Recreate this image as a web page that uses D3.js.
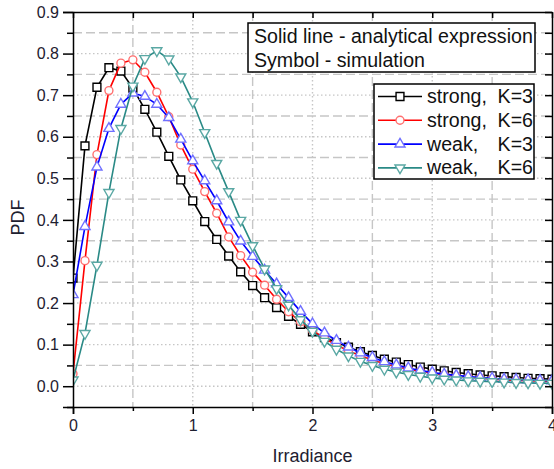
<html>
<head>
<script src="https://d3js.org/d3.v7.min.js"></script>
<style>
body { margin: 0; background: #fff; }
svg { font-family: "Liberation Sans", Arial, sans-serif; }
.grid line { stroke: #c6c6c6; stroke-width: 1.4; }
.major { stroke-dasharray: 1.5, 2.5; }
.minor { stroke-dasharray: 9, 4; }
.axis path, .axis line { stroke: #000; stroke-width: 1.5; }
.axis text { font-size: 16px; fill: #1e2030; }
.series path.line { fill: none; stroke-width: 1.6; }
.legend text { font-size: 19.6px; fill: #111; }
</style>
</head>
<body>
<div id="root"></div>
<script>
// irradiance sampling points
var irradiance = [0.0, 0.1, 0.2, 0.3, 0.4, 0.5, 0.6, 0.7, 0.8, 0.9,
  1.0, 1.1, 1.2, 1.3, 1.4, 1.5, 1.6, 1.7, 1.8, 1.9,
  2.0, 2.1, 2.2, 2.3, 2.4, 2.5, 2.6, 2.7, 2.8, 2.9,
  3.0, 3.1, 3.2, 3.3, 3.4, 3.5, 3.6, 3.7, 3.8, 3.9, 4.0];

var strongK3 = [0.26, 0.578, 0.719, 0.766, 0.758, 0.717, 0.666, 0.611, 0.553, 0.496,
  0.446, 0.396, 0.353, 0.313, 0.275, 0.242, 0.213, 0.189, 0.168, 0.149,
  0.131, 0.117, 0.105, 0.094, 0.083, 0.074, 0.065, 0.058, 0.052, 0.046,
  0.041, 0.037, 0.033, 0.030, 0.027, 0.025, 0.023, 0.021, 0.019, 0.018, 0.017];

var strongK6 = [0.03, 0.302, 0.557, 0.711, 0.777, 0.785, 0.755, 0.707, 0.648, 0.580,
  0.522, 0.468, 0.416, 0.359, 0.314, 0.274, 0.243, 0.209, 0.179, 0.155,
  0.134, 0.115, 0.099, 0.085, 0.073, 0.063, 0.054, 0.047, 0.041, 0.036,
  0.031, 0.027, 0.024, 0.021, 0.019, 0.017, 0.015, 0.014, 0.013, 0.012, 0.011];

var weakK3 = [0.22, 0.384, 0.527, 0.620, 0.678, 0.705, 0.697, 0.678, 0.646, 0.594,
  0.542, 0.494, 0.446, 0.395, 0.349, 0.312, 0.279, 0.246, 0.213, 0.180,
  0.150, 0.128, 0.110, 0.094, 0.080, 0.069, 0.059, 0.051, 0.044, 0.038,
  0.033, 0.029, 0.026, 0.023, 0.021, 0.019, 0.017, 0.016, 0.015, 0.014, 0.013];

var weakK6 = [0.015, 0.127, 0.291, 0.466, 0.620, 0.722, 0.788, 0.807, 0.787, 0.744,
  0.684, 0.610, 0.536, 0.468, 0.399, 0.338, 0.282, 0.235, 0.195, 0.160,
  0.132, 0.108, 0.089, 0.073, 0.060, 0.050, 0.041, 0.034, 0.028, 0.024,
  0.020, 0.017, 0.015, 0.013, 0.012, 0.011, 0.010, 0.009, 0.008, 0.007, 0.007];

var xTicks = [0, 1, 2, 3, 4];
var xMinor = [0.5, 1.5, 2.5, 3.5];
var yTicks = [0.0, 0.1, 0.2, 0.3, 0.4, 0.5, 0.6, 0.7, 0.8, 0.9];
var yMinor = [-0.05, 0.05, 0.15, 0.25, 0.35, 0.45, 0.55, 0.65, 0.75, 0.85];

var noteLines = ["Solid line - analytical expression", "Symbol - simulation"];
var seriesNames = ["strong,", "strong,", "weak,", "weak,"];
var seriesK = ["K=3", "K=6", "K=3", "K=6"];

var width = 554, height = 469;
var mLeft = 73, mRight = 552, mTop = 12, mBottom = 407;

var series = [
  {name: seriesNames[0], k: seriesK[0], values: strongK3, color: "#000000", mark: "#000000", symbol: d3.symbolSquare, size: 62, rot: 0},
  {name: seriesNames[1], k: seriesK[1], values: strongK6, color: "#ff0000", mark: "#ff7070", symbol: d3.symbolCircle, size: 50, rot: 0},
  {name: seriesNames[2], k: seriesK[2], values: weakK3, color: "#0000ff", mark: "#7070ff", symbol: d3.symbolTriangle, size: 44, rot: 0},
  {name: seriesNames[3], k: seriesK[3], values: weakK6, color: "#2a8a86", mark: "#5aa8a4", symbol: d3.symbolTriangle, size: 44, rot: 180}
];

var x = d3.scaleLinear().domain([0, 4]).range([mLeft, mRight]);
var y = d3.scaleLinear().domain([-0.05, 0.9]).range([mBottom, mTop]);

var svg = d3.select("#root").append("svg")
  .attr("width", width)
  .attr("height", height);

svg.append("defs").append("clipPath").attr("id", "plotclip")
  .append("rect")
  .attr("x", mLeft).attr("y", mTop)
  .attr("width", mRight - mLeft).attr("height", mBottom - mTop);

/* grid */
var grid = svg.append("g").attr("class", "grid");
grid.selectAll(".vmaj").data(xTicks.slice(1, 4)).enter().append("line")
  .attr("class", "major")
  .attr("x1", d => x(d)).attr("x2", d => x(d))
  .attr("y1", mTop).attr("y2", mBottom);
grid.selectAll(".vmin").data(xMinor).enter().append("line")
  .attr("class", "minor")
  .attr("x1", d => x(d)).attr("x2", d => x(d))
  .attr("y1", mTop).attr("y2", mBottom);
grid.selectAll(".hmaj").data(yTicks.slice(0, 9)).enter().append("line")
  .attr("class", "major")
  .attr("x1", mLeft).attr("x2", mRight)
  .attr("y1", d => y(d)).attr("y2", d => y(d));
grid.selectAll(".hmin").data(yMinor.slice(1)).enter().append("line")
  .attr("class", "minor")
  .attr("x1", mLeft).attr("x2", mRight)
  .attr("y1", d => y(d)).attr("y2", d => y(d));

/* series */
var line = d3.line()
  .x((d, i) => x(irradiance[i]))
  .y(d => y(d));

var plot = svg.append("g").attr("clip-path", "url(#plotclip)");

series.forEach(function(s) {
  var g = plot.append("g").attr("class", "series");
  g.append("path")
    .attr("class", "line")
    .attr("d", line(s.values))
    .style("stroke", s.color);
  g.selectAll("path.mk")
    .data(s.values).enter()
    .append("path")
    .attr("class", "mk")
    .attr("d", d3.symbol().type(s.symbol).size(s.size))
    .attr("transform", (d, i) => `translate(${x(irradiance[i])},${y(d)}) rotate(${s.rot})`)
    .style("fill", "#fff")
    .style("stroke", s.mark)
    .style("stroke-width", 1.4);
});

/* axes */
svg.append("g").attr("class", "axis")
  .attr("transform", `translate(0,${mBottom})`)
  .call(d3.axisBottom(x).tickValues(xMinor).tickSize(4).tickFormat(""))
  .select(".domain").remove();
svg.append("g").attr("class", "axis")
  .attr("transform", `translate(0,${mBottom})`)
  .call(d3.axisBottom(x).tickValues(xTicks).tickSize(7).tickPadding(6).tickFormat(d3.format("d")));

svg.append("g").attr("class", "axis")
  .attr("transform", `translate(${mLeft},0)`)
  .call(d3.axisLeft(y).tickValues(yMinor).tickSize(6).tickFormat(""))
  .select(".domain").remove();
svg.append("g").attr("class", "axis")
  .attr("transform", `translate(${mLeft},0)`)
  .call(d3.axisLeft(y).tickValues(yTicks).tickSize(10).tickPadding(4).tickFormat(d3.format(".1f")));

svg.append("g").attr("class", "axis")
  .attr("transform", `translate(0,${mTop})`)
  .call(d3.axisTop(x).tickValues(xMinor.concat(xTicks)).tickSizeInner(-6).tickSizeOuter(0).tickFormat(""));
svg.append("g").attr("class", "axis")
  .attr("transform", `translate(${mRight},0)`)
  .call(d3.axisRight(y).tickValues(yMinor.concat(yTicks)).tickSizeInner(-7).tickSizeOuter(0).tickFormat(""));

/* axis titles */
svg.append("text")
  .attr("x", (mLeft + mRight) / 2).attr("y", 462)
  .attr("text-anchor", "middle")
  .style("font-size", "18px").style("fill", "#1e2030")
  .text("Irradiance");
svg.append("text")
  .attr("transform", `translate(24,${(mTop + mBottom) / 2 + 8}) rotate(-90)`)
  .attr("text-anchor", "middle")
  .style("font-size", "18px").style("fill", "#1e2030")
  .text("PDF");

/* note box */
var note = svg.append("g").attr("class", "legend");
note.append("rect")
  .attr("x", 248).attr("y", 23).attr("width", 287).attr("height", 49)
  .style("fill", "#fff").style("stroke", "#000").style("stroke-width", 1.5);
note.selectAll("text").data(noteLines).enter().append("text")
  .attr("x", 254).attr("y", (d, i) => 43 + i * 24)
  .text(d => d);

/* series legend */
var leg = svg.append("g").attr("class", "legend");
leg.append("rect")
  .attr("x", 374).attr("y", 84).attr("width", 160).attr("height", 95)
  .style("fill", "#fff").style("stroke", "#000").style("stroke-width", 1.5);
var rows = leg.selectAll(".row").data(series).enter().append("g")
  .attr("transform", (d, i) => `translate(0,${96.5 + i * 23.8})`);
rows.append("line")
  .attr("x1", 378).attr("x2", 422)
  .style("stroke", d => d.color).style("stroke-width", 1.6);
rows.append("path")
  .attr("d", d => d3.symbol().type(d.symbol).size(d.size)())
  .attr("transform", d => `translate(400,0) rotate(${d.rot})`)
  .style("fill", "#fff")
  .style("stroke", d => d.mark)
  .style("stroke-width", 1.4);
rows.append("text")
  .attr("x", 427).attr("y", 6.5)
  .text(d => d.name);
rows.append("text")
  .attr("x", 533).attr("y", 6.5)
  .attr("text-anchor", "end")
  .text(d => d.k);
</script>
</body>
</html>
